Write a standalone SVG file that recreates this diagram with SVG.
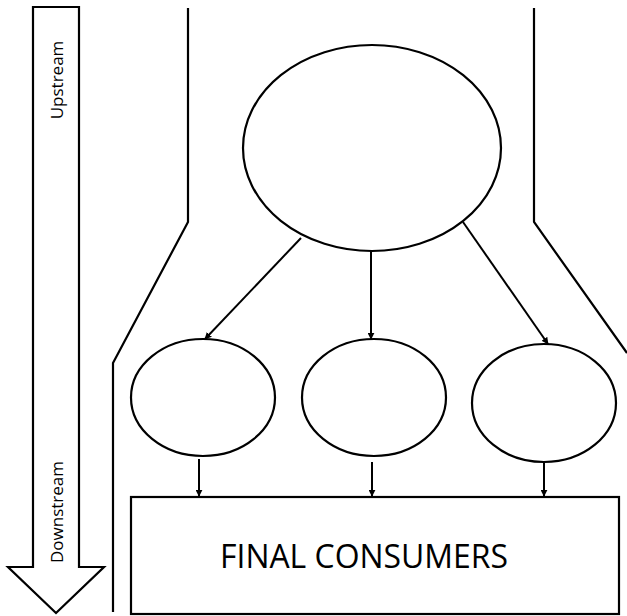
<svg xmlns="http://www.w3.org/2000/svg" width="627" height="616" viewBox="0 0 627 616">
<style>
.ln{fill:none;stroke:#000;stroke-width:2.2}
.nd{fill:#fff;stroke:#000;stroke-width:2.2}
.lbl{font-family:"Open Sans","Liberation Sans",sans-serif;fill:#000}
</style>
<defs>
<marker id="ah" viewBox="0 0 10 10" refX="9" refY="5" markerWidth="3.5" markerHeight="3.5" orient="auto" markerUnits="strokeWidth">
<path d="M0,0 L10,5 L0,10 z" fill="#000"/>
</marker>
</defs>
<rect width="627" height="616" fill="#fff"/>
<g id="flow-arrow">
<path class="nd" d="M33,7 L79,7 L79,567 L104,567 L56,613 L8,567 L33,567 Z"/>
<text class="lbl" font-size="17" text-anchor="middle" transform="translate(63,80) rotate(-90)">Upstream</text>
<text class="lbl" font-size="17" text-anchor="middle" transform="translate(63,512) rotate(-90)">Downstream</text>
</g>
<g id="channel">
<polyline class="ln" points="188,8 188,222 113,363 113,612"/>
<polyline class="ln" points="534,8 534,222 627,353"/>
</g>
<g id="top-node"><ellipse class="nd" cx="372" cy="148" rx="129" ry="103"/></g>
<g id="mid-left"><ellipse class="nd" cx="203" cy="397.5" rx="72" ry="58.5"/></g>
<g id="mid-center"><ellipse class="nd" cx="374" cy="397.5" rx="72" ry="58.5"/></g>
<g id="mid-right"><ellipse class="nd" cx="544" cy="403" rx="72" ry="59"/></g>
<g id="final-consumers">
<rect class="nd" x="131" y="497" width="488" height="117"/>
<text class="lbl" x="364" y="568" font-size="33" text-anchor="middle" textLength="288" lengthAdjust="spacingAndGlyphs">FINAL CONSUMERS</text>
</g>
<g id="connectors" stroke="#000" stroke-width="2" fill="none">
<line x1="301" y1="238" x2="205" y2="339" marker-end="url(#ah)"/>
<line x1="371" y1="251" x2="371" y2="339" marker-end="url(#ah)"/>
<line x1="463" y1="222" x2="548" y2="344" marker-end="url(#ah)"/>
<line x1="199" y1="459" x2="199" y2="496" marker-end="url(#ah)"/>
<line x1="372" y1="462" x2="372" y2="496" marker-end="url(#ah)"/>
<line x1="544" y1="463" x2="544" y2="496" marker-end="url(#ah)"/>
</g>
</svg>
